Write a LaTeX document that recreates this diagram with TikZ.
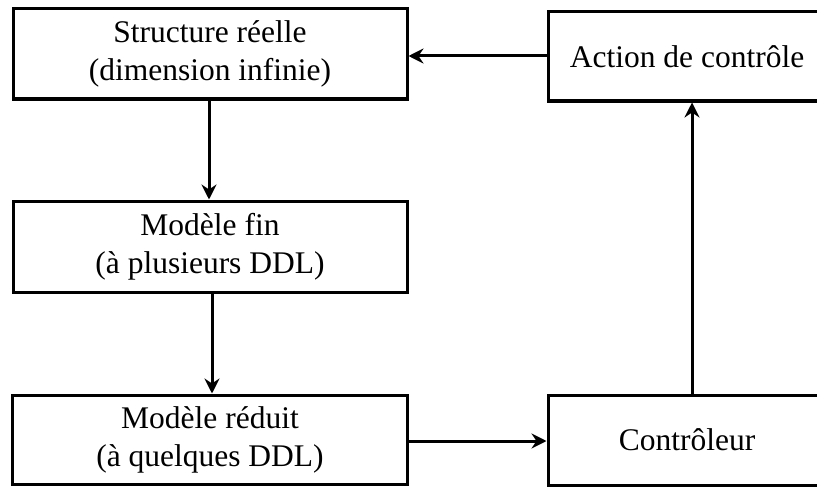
\documentclass[tikz,border=0pt]{standalone}
\usepackage{fontspec}
\setmainfont{Liberation Serif}
\usetikzlibrary{arrows.meta}
\begin{document}
\begin{tikzpicture}[x=1pt,y=-1pt,
  box/.style={draw=black,line width=3pt,fill=white,inner sep=0pt,
    align=center,font=\fontsize{31.5}{38}\selectfont},
  arr/.style={draw=black,line width=3pt,-{Stealth[length=15pt,width=15pt,inset=5pt]}}]
\useasboundingbox (0,0) rectangle (817,487);
\clip (0,0) rectangle (817,487);
\node[box,minimum width=394pt,minimum height=90pt] (s) at (210,54) {Structure réelle\\(dimension infinie)};
\node[box,minimum width=394pt,minimum height=91pt] (f) at (210,246.5) {Modèle fin\\(à plusieurs DDL)};
\node[box,minimum width=395pt,minimum height=89pt] (r) at (210,439.5) {Modèle réduit\\(à quelques DDL)};
\node[box,minimum width=278pt,minimum height=89pt] (a) at (687,56.5) {Action de contrôle};
\node[box,minimum width=278pt,minimum height=90pt] (c) at (687,440) {Contrôleur};
\draw[arr] ([yshift=0.5pt]a.west) -- ([yshift=0.5pt]a.west -| s.east);
\draw[arr] ([xshift=-1pt]s.south) -- ([xshift=-1pt]s.south |- f.north);
\draw[arr] ([xshift=2pt]f.south) -- ([xshift=2pt]f.south |- r.north);
\draw[arr] ([yshift=-1.5pt]r.east) -- ([yshift=-1.5pt]r.east -| c.west);
\draw[arr] ([xshift=5pt]c.north) -- ([xshift=5pt]c.north |- a.south);
\end{tikzpicture}
\end{document}
